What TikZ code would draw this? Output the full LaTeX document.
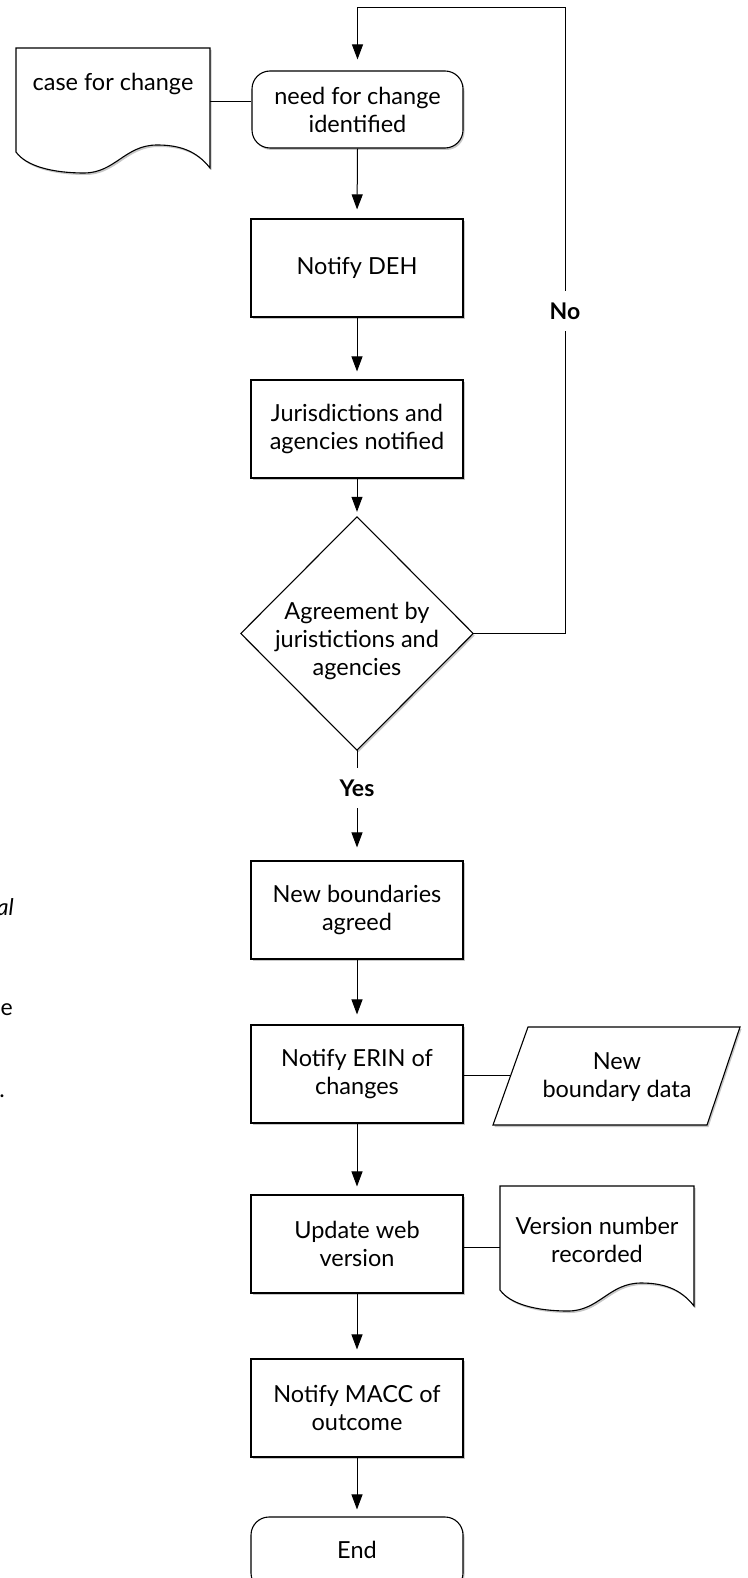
\documentclass[tikz,border=0pt]{standalone}
\usepackage{fontspec}
\setmainfont{Lato}
\usetikzlibrary{arrows.meta,shadows}
\tikzset{
  shade/.style={drop shadow={shadow xshift=1.5pt, shadow yshift=-2pt, opacity=0.22, fill=black}},
  stepbox/.style={draw, line width=1.1pt, fill=white, minimum width=212pt, minimum height=98pt,
    inner sep=0pt, align=center, font=\fontsize{23.5}{28}\selectfont, shade},
  termbox/.style={stepbox, rounded corners=18pt},
  txt/.style={inner sep=0pt, align=center, font=\fontsize{23.5}{28}\selectfont},
  anch/.style={inner sep=0pt},
  shapeline/.style={draw, line width=1.1pt, fill=white, shade},
  arr/.style={line width=1pt, -{Triangle[length=15pt,width=11pt]}, shorten >=9pt},
  link/.style={line width=1pt},
  lab/.style={fill=white, inner xsep=2pt, inner ysep=0pt, minimum height=40pt, font=\fontsize{23}{26}\selectfont\bfseries},
  stray/.style={inner sep=0pt, font=\fontsize{23}{26}\selectfont}
}
\begin{document}
\begin{tikzpicture}[x=1pt,y=-1pt]
\useasboundingbox (0,0) rectangle (747,1578);

% document shape: case for change
\path[shapeline] (16,48) -- (210,48) -- (210,168)
  .. controls (196,150) and (178,145) .. (157,145)
  .. controls (125,145) and (115,173) .. (84,173)
  .. controls (52,173) and (26,166) .. (16,152) -- cycle;
\node[txt] (case) at (113,84) {case for change};
\coordinate (caseR) at (210,102);

% need for change identified
\node[termbox, minimum width=211pt, minimum height=77pt] (need) at (357.5,109.5) {need for change\\identified};
\draw[link] (caseR) -- (need.west |- caseR);

\node[stepbox] (deh) at (357,268) {Notify DEH};
\node[stepbox] (jur) at (357,429) {Jurisdictions and\\agencies notified};

% decision diamond
\node[anch, minimum width=232pt, minimum height=233pt] (agree) at (357,633.5) {};
\path[shapeline] (agree.north) -- (agree.east) -- (agree.south) -- (agree.west) -- cycle;
\node[txt] (agreetext) at (357,641) {Agreement by\\juristictions and\\agencies};

\node[stepbox] (newb) at (357,910) {New boundaries\\agreed};
\node[stepbox] (erin) at (357,1074) {Notify ERIN of\\changes};
\node[stepbox] (web) at (357,1244) {Update web\\version};
\node[stepbox] (macc) at (357,1408) {Notify MACC of\\outcome};
\node[termbox, minimum height=74pt] (end) at (357,1554) {};
\node[txt] (endtext) at (357,1550) {End};

% parallelogram: new boundary data
\path[shapeline] (528,1027) -- (740,1027) -- (707,1125) -- (493,1125) -- cycle;
\node[txt] (data) at (617,1077) {New\\boundary data};
\coordinate (dataL) at (511,1075);
\draw[link] (erin.east |- dataL) -- (dataL);

% document shape: version number recorded
\begin{scope}[shift={(484,1138)}]
\path[shapeline] (16,48) -- (210,48) -- (210,168)
  .. controls (196,150) and (178,145) .. (157,145)
  .. controls (125,145) and (115,173) .. (84,173)
  .. controls (52,173) and (26,166) .. (16,152) -- cycle;
\end{scope}
\node[txt] (ver) at (597,1240) {Version number\\recorded};
\coordinate (verL) at (500,1247);
\draw[link] (web.east |- verL) -- (verL);

% flow arrows
\draw[arr] (need.south) -- (deh.north);
\draw[arr, shorten >=8pt] (deh.south) -- (jur.north);
\draw[arr, shorten >=5pt] (jur.south) -- (agree.north);
\draw[arr, shorten >=13pt] (agree.south) -- (newb.north);
\draw[arr, shorten >=10pt] (newb.south) -- (erin.north);
\draw[arr, shorten >=8pt] (erin.south) -- (web.north);
\draw[arr] (web.south) -- (macc.north);
\draw[arr, shorten >=7pt] (macc.south) -- (end.north);

% No loop
\coordinate (loopA) at (565,633.5);
\coordinate (loopB) at (565,8);
\coordinate (loopC) at (357.5,8);
\draw[arr, shorten >=11pt] (agree.east) -- (loopA) -- (loopB) -- (loopC) -- (need.north);
\node[lab] (no) at (565,311) {No};
\node[lab] (yes) at (357,788) {Yes};

% cut-off text fragments at the left edge
\node[stray, anchor=base east, font=\fontsize{23}{26}\selectfont\itshape] (fragA) at (14,915) {al};
\node[stray, anchor=base west] (fragB) at (0.5,1015) {e};
\node[stray, anchor=base east] (fragC) at (5,1097) {.};
\end{tikzpicture}
\end{document}
